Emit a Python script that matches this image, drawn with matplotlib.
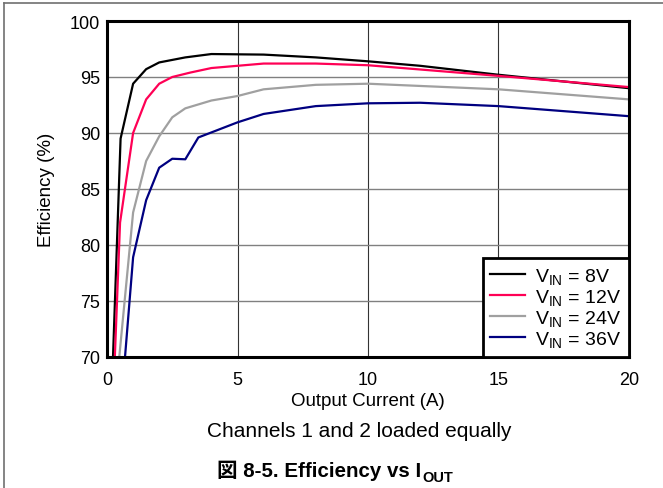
import matplotlib
matplotlib.use('Agg')
import matplotlib.pyplot as plt
from matplotlib.lines import Line2D

plt.rcParams['font.family'] = ['Liberation Sans', 'Noto Sans CJK JP']
plt.rcParams['mathtext.fontset'] = 'custom'
plt.rcParams['mathtext.rm'] = 'Liberation Sans'
plt.rcParams['mathtext.it'] = 'Liberation Sans'
plt.rcParams['mathtext.bf'] = 'Liberation Sans:bold'

# efficiency curves
i_8v = [0.23, 0.52, 1.0, 1.5, 2.0, 3.0, 4.0, 6.0, 8.0, 10.0, 12.0, 15.0, 20.0]
eff_8v = [70.0, 89.5, 94.4, 95.7, 96.3, 96.75, 97.05, 97.0, 96.75, 96.4, 96.0, 95.2, 94.0]

i_12v = [0.3, 0.5, 1.0, 1.5, 2.0, 2.5, 3.2, 4.0, 5.0, 6.0, 8.0, 10.0, 15.0, 20.0]
eff_12v = [70.0, 82.0, 90.0, 93.0, 94.4, 95.0, 95.4, 95.8, 96.0, 96.2, 96.2, 96.05, 95.1, 94.1]

i_24v = [0.47, 1.0, 1.5, 2.0, 2.5, 3.0, 4.0, 5.0, 6.0, 8.0, 10.0, 15.0, 20.0]
eff_24v = [70.0, 82.9, 87.5, 89.7, 91.4, 92.2, 92.9, 93.3, 93.9, 94.3, 94.4, 93.9, 93.0]

i_36v = [0.69, 1.0, 1.5, 2.0, 2.5, 3.0, 3.5, 4.0, 5.0, 6.0, 8.0, 10.0, 12.0, 15.0, 20.0]
eff_36v = [70.0, 78.9, 84.0, 86.9, 87.7, 87.65, 89.6, 90.05, 90.95, 91.7, 92.4, 92.65, 92.7, 92.4, 91.5]

fig = plt.figure(figsize=(6.63, 4.89), dpi=100)
ax = fig.add_axes([0.1614, 0.268, 0.7873, 0.687])

ax.plot(i_8v, eff_8v, color='black', lw=1.6, label=r'V$_{\mathregular{IN}}$ = 8V')
ax.plot(i_12v, eff_12v, color='#FF0055', lw=1.6, label=r'V$_{\mathregular{IN}}$ = 12V')
ax.plot(i_24v, eff_24v, color='#A0A0A0', lw=1.6, label=r'V$_{\mathregular{IN}}$ = 24V')
ax.plot(i_36v, eff_36v, color='#000080', lw=1.6, label=r'V$_{\mathregular{IN}}$ = 36V')

ax.set_xlim(0, 20)
ax.set_ylim(70, 100)
ax.set_xticks([0, 5, 10, 15, 20])
ax.set_yticks([70, 75, 80, 85, 90, 95, 100])
ax.grid(axis='x', color='#333333', lw=0.8)
ax.grid(axis='y', color='#808080', lw=1.0)
ax.set_axisbelow(True)
for s in ax.spines.values():
    s.set_linewidth(2.2)
ax.tick_params(length=0, labelsize=13, pad=10)
ax.tick_params(axis='y', pad=5)

ax.set_xlabel('Output Current (A)', fontsize=13.5, labelpad=3)
ax.set_ylabel('Efficiency (%)', fontsize=13.5, labelpad=11)

leg = ax.legend(loc='lower right', fontsize=14, borderaxespad=0, fancybox=False,
                handlelength=1.8, handletextpad=0.5, labelspacing=0.05,
                borderpad=0.4, framealpha=1)
leg.get_frame().set_edgecolor('black')
leg.get_frame().set_linewidth(2.0)

fig.text(0.542, 0.117, 'Channels 1 and 2 loaded equally', fontsize=15,
         ha='center', va='center')
title = fig.text(0.482, 0.0245, '図 8-5. Efficiency vs I', fontsize=14.8,
                 weight='bold', ha='center', va='baseline')
ax.annotate('OUT', xy=(1, 0), xycoords=title, xytext=(0.5, -3),
            textcoords='offset points', fontsize=10.5, weight='bold',
            ha='left', va='bottom', annotation_clip=False)

# figure frame (top and left)
fig.add_artist(Line2D([0.006, 1.0], [0.992, 0.992], color='#707070', lw=1.2))
fig.add_artist(Line2D([0.006, 0.006], [0.0, 0.992], color='#707070', lw=1.2))

fig.savefig('out.png', dpi=100)
